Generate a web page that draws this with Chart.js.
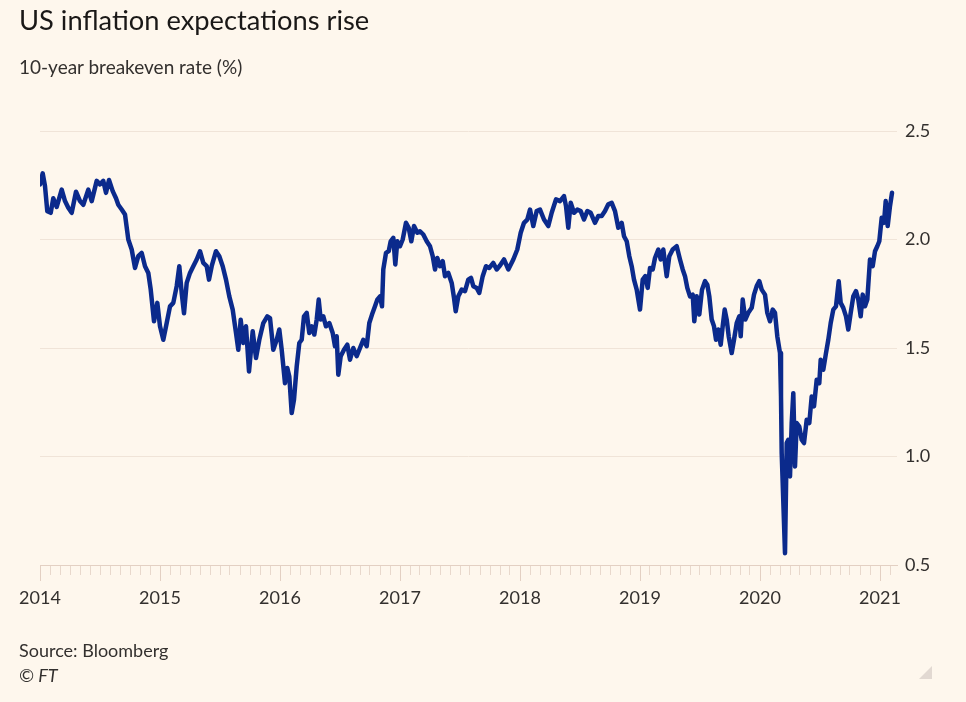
<!DOCTYPE html>
<html>
<head>
<meta charset="utf-8">
<script src="https://cdn.jsdelivr.net/npm/chart.js@4.4.1/dist/chart.umd.min.js"></script>
<style>
  html, body { margin: 0; padding: 0; background: #fef7ed; }
  body { width: 966px; height: 702px; position: relative; overflow: hidden; font-family: Lato, "Noto Sans", sans-serif; }
  #wrap { position: absolute; left: 0; top: 0; width: 966px; height: 702px; }
  .txt { position: absolute; left: 19px; white-space: nowrap; line-height: 1; }
  #title { top: 6px; font-size: 27.3px; color: #1a1817; }
  #subtitle { top: 57px; font-size: 19px; color: #33302e; }
  #source { top: 641px; font-size: 18px; color: #33302e; }
  #copy { top: 666px; font-size: 18px; color: #33302e; font-style: italic; }
  #corner { position: absolute; left: 919px; top: 666px; width: 0; height: 0;
    border-left: 13px solid transparent; border-bottom: 13px solid #e2d9d2; }
</style>
</head>
<body>
<div id="wrap"><canvas id="c" width="966" height="702"></canvas></div>
<div class="txt" id="title">US inflation expectations rise</div>
<div class="txt" id="subtitle">10-year breakeven rate (%)</div>
<div class="txt" id="source">Source: Bloomberg</div>
<div class="txt" id="copy">© FT</div>
<div id="corner"></div>
<script>
// x: months since January 2014
const monthsSinceJan2014 = [
  0.0,0.27,0.5,0.73,1.07,1.33,1.67,2.17,2.5,2.83,3.17,3.6,4.0,4.33,4.83,5.17,5.67,6.0,6.33,6.6,6.9,7.27,7.6,7.83,
  8.17,8.5,8.83,9.17,9.5,9.83,10.17,10.5,10.83,11.07,11.4,11.73,12.0,12.33,12.67,13.0,13.33,13.67,13.93,14.17,14.4,
  14.67,15.0,15.33,15.67,16.0,16.33,16.67,16.9,17.17,17.6,17.93,18.27,18.6,18.93,19.27,19.6,19.83,20.07,20.33,20.6,
  20.9,21.27,21.6,21.93,22.33,22.73,
  23.0,23.33,23.67,23.93,24.17,24.5,24.73,24.93,25.17,25.4,25.67,25.93,26.17,26.4,26.67,26.93,27.17,27.43,27.67,
  27.87,28.07,28.33,28.6,28.93,29.27,29.5,29.67,29.83,30.07,30.4,30.73,31.0,31.33,31.67,32.0,32.33,32.67,32.93,33.2,
  33.5,33.73,34.0,34.2,34.33,34.6,34.87,35.07,35.33,35.53,35.73,36.0,36.27,36.6,36.87,37.13,37.4,37.73,38.0,38.33,
  38.67,39.0,39.27,39.5,39.73,40.0,40.27,40.5,40.83,41.17,41.4,41.57,41.83,42.17,42.5,42.83,43.1,43.33,43.67,43.93,
  44.27,44.6,44.93,45.33,45.67,
  46.0,46.4,46.83,47.33,47.73,48.07,48.4,48.73,49.0,49.33,49.67,50.0,50.4,50.83,51.17,51.6,52.0,52.4,52.6,52.83,
  53.07,53.4,53.73,54.07,54.4,54.73,55.07,55.5,55.83,56.17,56.5,56.83,57.17,57.5,57.83,58.17,58.4,58.67,58.93,59.17,
  59.4,59.67,60.0,60.27,60.53,60.77,61.0,61.27,61.5,61.83,62.07,62.33,62.67,62.93,63.27,63.67,64.0,64.27,64.5,64.73,
  65.0,65.27,65.43,65.67,65.93,66.2,66.5,66.73,66.93,67.17,67.4,67.6,67.83,68.07,68.27,68.47,68.67,68.87,69.17,69.4,
  69.67,69.93,
  70.07,70.27,70.53,70.83,71.17,71.4,71.67,71.93,72.17,72.5,72.73,73.0,73.27,73.5,73.73,74.0,74.1,74.17,74.27,74.5,
  74.67,74.83,75.0,75.17,75.33,75.5,75.67,75.93,76.17,76.4,76.67,76.93,77.17,77.4,77.67,77.93,78.07,78.33,78.6,78.83,
  79.07,79.33,79.6,79.87,80.07,80.33,80.6,80.83,81.07,81.33,81.6,81.83,82.07,82.27,82.5,82.73,83.0,83.27,83.5,83.73,
  83.93,84.17,84.4,84.57,84.77,85.0,85.2
];
// 10-year breakeven rate, %
const breakevenRate = [
  2.254,2.305,2.246,2.13,2.123,2.19,2.15,2.23,2.177,2.146,2.123,2.22,2.177,2.16,2.23,2.177,2.27,2.254,2.27,2.215,2.274,2.223,2.19,2.16,
  2.138,2.115,2.0,1.954,1.869,1.923,1.938,1.877,1.846,1.77,1.623,1.708,1.6,1.538,1.615,1.692,1.708,1.785,1.877,1.754,1.66,
  1.8,1.846,1.877,1.908,1.946,1.892,1.877,1.815,1.877,1.946,1.923,1.877,1.815,1.738,1.677,1.569,1.492,1.63,1.523,1.6,
  1.392,1.577,1.454,1.538,1.615,1.646,
  1.638,1.492,1.538,1.585,1.492,1.338,1.408,1.369,1.2,1.262,1.415,1.523,1.538,1.646,1.662,1.569,1.6,1.562,1.631,
  1.723,1.631,1.646,1.6,1.615,1.569,1.508,1.554,1.377,1.462,1.492,1.515,1.446,1.5,1.462,1.5,1.538,1.508,1.615,1.654,
  1.692,1.723,1.738,1.692,1.862,1.938,1.946,1.992,2.008,1.885,1.992,1.969,2.0,2.077,2.054,1.992,2.062,2.031,2.038,2.023,
  1.992,1.969,1.923,1.862,1.915,1.877,1.9,1.831,1.846,1.8,1.731,1.669,1.738,1.769,1.762,1.815,1.823,1.785,1.777,1.754,
  1.831,1.877,1.869,1.892,1.862,
  1.88,1.908,1.862,1.908,1.954,2.031,2.077,2.092,2.138,2.062,2.131,2.138,2.092,2.062,2.123,2.185,2.177,2.2,2.154,2.054,
  2.169,2.123,2.138,2.131,2.092,2.131,2.123,2.077,2.108,2.108,2.131,2.162,2.169,2.131,2.054,2.077,2.015,1.992,1.923,1.877,
  1.815,1.769,1.677,1.815,1.831,1.777,1.869,1.862,1.915,1.954,1.908,1.954,1.831,1.923,1.954,1.969,1.908,1.862,1.831,1.777,
  1.738,1.746,1.623,1.738,1.654,1.769,1.808,1.792,1.738,1.631,1.6,1.538,1.585,1.515,1.6,1.677,1.631,1.554,1.477,1.538,
  1.615,1.646,
  1.554,1.723,1.631,1.662,1.685,1.746,1.785,1.808,1.769,1.746,1.662,1.623,1.677,1.662,1.554,1.477,1.277,1.015,0.877,0.554,
  1.062,1.077,0.908,1.154,1.292,0.954,1.154,1.138,1.077,1.062,1.169,1.154,1.277,1.231,1.354,1.338,1.446,1.4,1.477,1.538,
  1.615,1.677,1.692,1.808,1.708,1.685,1.646,1.585,1.662,1.738,1.762,1.723,1.646,1.746,1.692,1.723,1.908,1.877,1.946,1.969,
  1.992,2.1,2.077,2.177,2.062,2.154,2.215
];
const yearLabels = ['2014','2015','2016','2017','2018','2019','2020','2021'];
const yMin = 0.5, yMax = 2.5, yStep = 0.5;
const xMax = 85.7;

const points = monthsSinceJan2014.map((m, i) => ({ x: m, y: breakevenRate[i] }));

const yearTicks = {
  id: 'yearTicks',
  afterDraw(chart) {
    const xs = chart.scales.x, ctx = chart.ctx;
    const b = chart.chartArea.bottom;
    ctx.save();
    ctx.strokeStyle = '#e3d0c3';
    ctx.lineWidth = 1;
    yearLabels.forEach((_, i) => {
      const px = Math.round(xs.getPixelForValue(i * 12)) + 0.5;
      ctx.beginPath();
      ctx.moveTo(px, b);
      ctx.lineTo(px, b + 16);
      ctx.stroke();
    });
    ctx.restore();
  }
};

new Chart(document.getElementById('c'), {
  type: 'line',
  data: {
    datasets: [{
      data: points,
      borderColor: '#0b2a8c',
      borderWidth: 4.5,
      pointRadius: 0,
      tension: 0,
      borderJoinStyle: 'round',
      borderCapStyle: 'round',
      fill: false
    }]
  },
  options: {
    responsive: false,
    animation: false,
    devicePixelRatio: 1,
    layout: { padding: { top: 131, left: 40, right: 0, bottom: 0 } },
    plugins: { legend: { display: false }, tooltip: { enabled: false } },
    scales: {
      x: {
        type: 'linear',
        min: 0,
        max: xMax,
        afterFit(s) { s.height = 702 - 565; },
        ticks: {
          stepSize: 1,
          autoSkip: false,
          maxRotation: 0,
          includeBounds: false,
          padding: 12,
          color: '#33302e',
          font: { family: 'Lato', size: 18 },
          callback: (v) => (Number.isInteger(v) && v % 12 === 0) ? yearLabels[v / 12] : ''
        },
        grid: { drawOnChartArea: false, drawTicks: true, tickLength: 10, color: '#e8d8cc' },
        border: { display: true, color: '#e3d0c3', width: 1 }
      },
      y: {
        position: 'right',
        min: yMin,
        max: yMax,
        afterFit(s) { s.width = 69; },
        ticks: {
          stepSize: yStep,
          padding: 8,
          color: '#33302e',
          font: { family: 'Lato', size: 18 },
          callback: (v) => v.toFixed(1)
        },
        grid: { color: '#f0e4d8', drawTicks: false, tickLength: 0 },
        border: { display: false }
      }
    }
  },
  plugins: [yearTicks]
});
</script>
</body>
</html>
